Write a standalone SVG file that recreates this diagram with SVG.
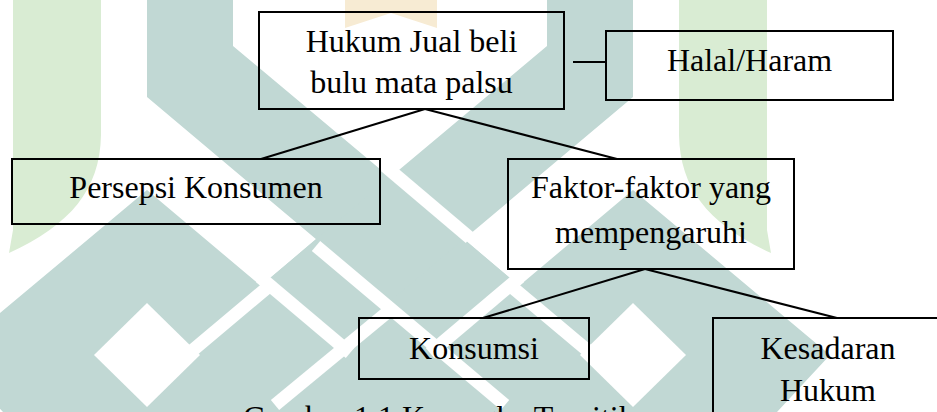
<svg xmlns="http://www.w3.org/2000/svg" xmlns:xlink="http://www.w3.org/1999/xlink" width="937" height="412" viewBox="0 0 937 412">
<style>
  .t{fill:#c1d8d4}
  .g{fill:#d9ecd3}
  .o{fill:#f7ebd3}
  .h{fill:#ffffff}
  .w{stroke:#ffffff;stroke-width:13;fill:none}
  .box{fill:none;stroke:#000;stroke-width:2}
  .ln{stroke:#000;stroke-width:2;fill:none}
  text{font-family:"Liberation Serif","Times New Roman",serif;font-size:32px;fill:#000;text-anchor:middle}
</style>
<defs>
  <g id="half">
    <path class="g" d="M13,0 H101 V135 C100,190 70,225 9,253 L13,230 Z"/>
    <polygon class="t" points="147,0 233,0 233,46 510,278 436,340 147,97"/>
  </g>
</defs>
<g id="watermark">
  <polygon class="t" points="-50,355 147,190 261,286 316,239 390,302 464,239 519,286 633,190 830,355 777,412 3,412"/>
  <use href="#half" xlink:href="#half"/>
  <use href="#half" xlink:href="#half" transform="translate(780,0) scale(-1,1)"/>
  <polygon class="h" points="147,303 200,355 147,407 94,355"/>
  <polygon class="h" points="633,303 686,355 633,407 580,355"/>
  <line class="w" x1="268" y1="287" x2="193" y2="350"/>
  <line class="w" x1="512" y1="287" x2="587" y2="350"/>
  <line class="w" x1="316" y1="246" x2="505" y2="405"/>
  <line class="w" x1="395" y1="306" x2="275" y2="405"/>
  <line class="w" x1="385" y1="166" x2="470" y2="238"/>
  <line class="w" x1="520" y1="277" x2="430" y2="353"/>
  <line class="w" x1="260" y1="277" x2="350" y2="353"/>
  <polygon class="o" points="345,0 437,0 437,28 391,13 345,28"/>
</g>
<g id="connectors">
  <line class="ln" x1="425" y1="109" x2="261" y2="159"/>
  <line class="ln" x1="425" y1="109" x2="617" y2="159"/>
  <line class="ln" x1="573" y1="62" x2="606" y2="62"/>
  <line class="ln" x1="645" y1="269" x2="483" y2="318"/>
  <line class="ln" x1="645" y1="269" x2="837" y2="318"/>
</g>
<g id="n1">
  <rect class="box" x="259" y="12" width="305" height="97"/>
  <text x="411.5" y="52">Hukum Jual beli</text>
  <text x="411.5" y="93">bulu mata palsu</text>
</g>
<g id="n2">
  <rect class="box" x="606" y="31" width="287" height="69"/>
  <text x="749.5" y="71">Halal/Haram</text>
</g>
<g id="n3">
  <rect class="box" x="12" y="159" width="368" height="65"/>
  <text x="196" y="198">Persepsi Konsumen</text>
</g>
<g id="n4">
  <rect class="box" x="508" y="159" width="286" height="110"/>
  <text x="651" y="198">Faktor-faktor yang</text>
  <text x="651" y="243">mempengaruhi</text>
</g>
<g id="n5">
  <rect class="box" x="359" y="318" width="230" height="61"/>
  <text x="474" y="359">Konsumsi</text>
</g>
<g id="n6">
  <rect class="box" x="713" y="318" width="240" height="120"/>
  <text x="828" y="359">Kesadaran</text>
  <text x="828" y="401">Hukum</text>
</g>
<text x="243" y="428" style="text-anchor:start">Gambar 1.1 Kerangka Teoritik</text>
</svg>
